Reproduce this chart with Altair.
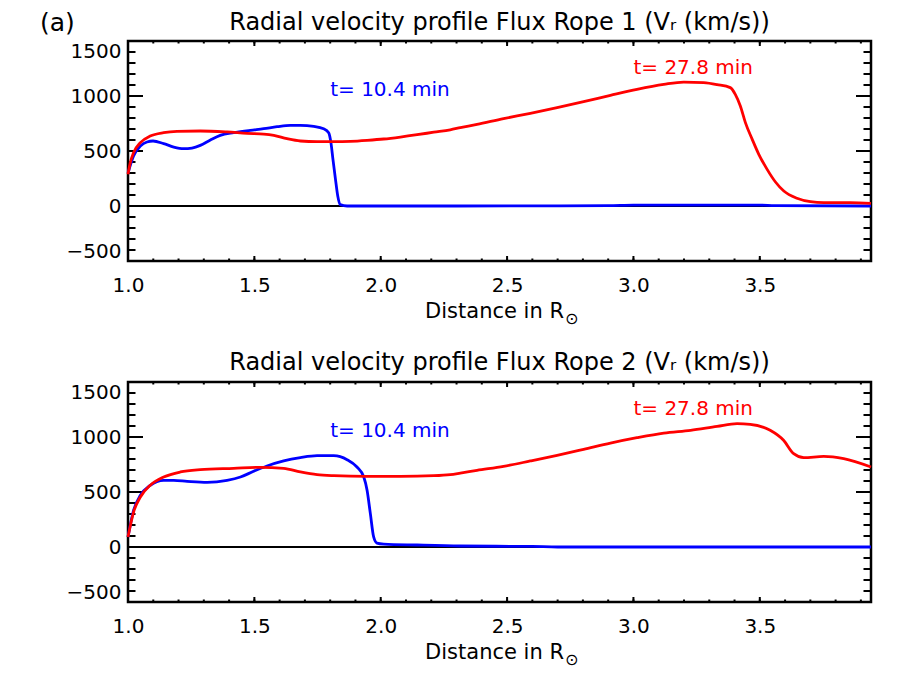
import altair as alt
import pandas as pd

FONT = "DejaVu Sans"

# ---------------- data ----------------
# Panel 1: Flux Rope 1
x_top_blue = [1.0, 1.022, 1.049, 1.075, 1.099, 1.141, 1.181, 1.220, 1.253, 1.286, 1.326,
              1.365, 1.418, 1.484, 1.537, 1.590, 1.642, 1.682, 1.735, 1.774, 1.794, 1.803,
              1.811, 1.821, 1.830, 1.840, 1.867, 2.3, 2.9, 3.0, 3.5, 3.56, 3.94]
v_top_blue = [300, 455, 545, 582, 591, 567, 536, 521, 527, 551, 600,
              642, 667, 688, 703, 721, 733, 733, 724, 703, 667, 576,
              424, 242, 91, 12, 0, 0, 3, 8, 8, 3, 0]

x_top_red = [1.0, 1.009, 1.022, 1.049, 1.088, 1.141, 1.194, 1.286, 1.392, 1.471, 1.537,
             1.577, 1.629, 1.682, 1.748, 1.814, 1.880, 1.946, 2.012, 2.078, 2.144, 2.210,
             2.275, 2.315, 2.381, 2.486, 2.592, 2.698, 2.803, 2.909, 3.014, 3.120, 3.199,
             3.278, 3.331, 3.383, 3.403, 3.423, 3.443, 3.470, 3.496, 3.529, 3.562, 3.595,
             3.647, 3.700, 3.753, 3.858, 3.94]
v_top_red = [288, 394, 485, 576, 636, 667, 679, 682, 673, 661, 654,
             642, 612, 591, 585, 585, 588, 597, 609, 627, 648, 671,
             693, 712, 742, 794, 842, 894, 948, 1006, 1061, 1106, 1127,
             1121, 1103, 1076, 1015, 909, 758, 606, 470, 333, 218, 136,
             70, 39, 30, 30, 24]

# Panel 2: Flux Rope 2
x_bot_blue = [1.0, 1.022, 1.049, 1.088, 1.141, 1.181, 1.234, 1.313, 1.392, 1.445, 1.497,
              1.550, 1.616, 1.682, 1.748, 1.814, 1.867, 1.906, 1.933, 1.946, 1.959, 1.972,
              1.985, 2.012, 2.144, 2.315, 2.6, 2.7, 3.94]
v_bot_blue = [91, 333, 470, 561, 606, 606, 597, 588, 606, 636, 688,
              736, 782, 812, 830, 830, 794, 727, 636, 515, 303, 91,
              36, 27, 18, 9, 5, 0, 0]

x_bot_red = [1.0, 1.022, 1.049, 1.088, 1.141, 1.207, 1.286, 1.418, 1.524, 1.616, 1.682,
             1.748, 1.814, 1.946, 2.078, 2.210, 2.275, 2.315, 2.381, 2.486, 2.592, 2.698,
             2.803, 2.909, 3.014, 3.120, 3.226, 3.331, 3.410, 3.462, 3.541, 3.594, 3.634,
             3.674, 3.753, 3.832, 3.94]
v_bot_red = [91, 318, 455, 561, 636, 682, 703, 715, 724, 715, 682,
             657, 648, 642, 642, 648, 658, 672, 697, 733, 782, 833,
             888, 945, 994, 1036, 1061, 1097, 1121, 1115, 1061, 970, 848,
             812, 824, 803, 727]

labels_blue = ["t= 10.4 min"]
labels_red = ["t= 27.8 min"]
label_blue_pos = ([1.80], [1000])
label_red_pos = ([3.00], [1200])

titles = ["Radial velocity profile Flux Rope 1 (V\u1d63 (km/s))",
          "Radial velocity profile Flux Rope 2 (V\u1d63 (km/s))"]

X_DOMAIN = [1.0, 3.94]
Y_DOMAIN = [-500, 1500]
x_major = [1.0, 1.5, 2.0, 2.5, 3.0, 3.5]
x_minor = [round(1.0 + 0.1 * i, 1) for i in range(1, 30)]
y_major = [-500, 0, 500, 1000, 1500]
y_minor = [-500 + 100 * i for i in range(1, 20)]

# ---------------- layout constants ----------------
W, H = 743, 220
YMAJ, YMIN = 15, 7.5
XMAJ, XMIN = 5, 2.5


def panel(xb, vb, xr, vr, title, first):
    xs = alt.Scale(domain=X_DOMAIN, nice=False, zero=False)
    ys = alt.Scale(domain=Y_DOMAIN, nice=False, zero=False)
    xaxis = alt.Axis(values=x_major, format=".1f", title=None, ticks=False, tickSize=0,
                     domain=False, grid=False, labelFont=FONT, labelFontSize=20,
                     labelColor="black", labelPadding=14, labelFlush=False)
    yaxis = alt.Axis(values=y_major, format="d", title=None, ticks=False, tickSize=0,
                     domain=False, grid=False, labelFont=FONT, labelFontSize=20,
                     labelColor="black", labelPadding=7, labelFlush=True)

    def X(f):
        return alt.X(f, type="quantitative", scale=xs, axis=xaxis)

    def Y(f):
        return alt.Y(f, type="quantitative", scale=ys, axis=yaxis)

    layers = []
    # zero line
    layers.append(alt.Chart(pd.DataFrame({"v": [0]})).mark_rule(color="black", strokeWidth=2.2)
                  .encode(y=Y("v")))
    # ticks (inward, on all four sides)
    dxM = pd.DataFrame({"x": x_major})
    dxm = pd.DataFrame({"x": x_minor})
    dyM = pd.DataFrame({"v": y_major})
    dym = pd.DataFrame({"v": y_minor})
    rule = dict(color="black", strokeWidth=2)
    layers += [
        alt.Chart(dxM).mark_rule(**rule).encode(x=X("x"), y=alt.value(H), y2=alt.value(H - XMAJ)),
        alt.Chart(dxM).mark_rule(**rule).encode(x=X("x"), y=alt.value(0), y2=alt.value(XMAJ)),
        alt.Chart(dxm).mark_rule(**rule).encode(x=X("x"), y=alt.value(H), y2=alt.value(H - XMIN)),
        alt.Chart(dxm).mark_rule(**rule).encode(x=X("x"), y=alt.value(0), y2=alt.value(XMIN)),
        alt.Chart(dyM).mark_rule(**rule).encode(y=Y("v"), x=alt.value(0), x2=alt.value(YMAJ)),
        alt.Chart(dyM).mark_rule(**rule).encode(y=Y("v"), x=alt.value(W), x2=alt.value(W - YMAJ)),
        alt.Chart(dym).mark_rule(**rule).encode(y=Y("v"), x=alt.value(0), x2=alt.value(YMIN)),
        alt.Chart(dym).mark_rule(**rule).encode(y=Y("v"), x=alt.value(W), x2=alt.value(W - YMIN)),
    ]
    # curves
    layers.append(alt.Chart(pd.DataFrame({"x": xb, "v": vb}))
                  .mark_line(color="#0000ff", strokeWidth=2.8, interpolate="monotone")
                  .encode(x=X("x"), y=Y("v")))
    layers.append(alt.Chart(pd.DataFrame({"x": xr, "v": vr}))
                  .mark_line(color="#ff0000", strokeWidth=2.8, interpolate="monotone")
                  .encode(x=X("x"), y=Y("v")))
    # annotations
    layers.append(alt.Chart(pd.DataFrame({"x": label_blue_pos[0], "v": label_blue_pos[1], "t": labels_blue}))
                  .mark_text(align="left", baseline="alphabetic", font=FONT, fontSize=20, color="#0000ff")
                  .encode(x=X("x"), y=Y("v"), text="t:N"))
    layers.append(alt.Chart(pd.DataFrame({"x": label_red_pos[0], "v": label_red_pos[1], "t": labels_red}))
                  .mark_text(align="left", baseline="alphabetic", font=FONT, fontSize=20, color="#ff0000")
                  .encode(x=X("x"), y=Y("v"), text="t:N"))
    # x-axis title with subscript sun symbol
    layers.append(alt.Chart(pd.DataFrame({"t": ["Distance in R"]}))
                  .mark_text(align="right", baseline="alphabetic", font=FONT, fontSize=21, color="black")
                  .encode(x=alt.value(436), y=alt.value(277), text="t:N"))
    layers.append(alt.Chart(pd.DataFrame({"t": ["\u2299"]}))
                  .mark_text(align="left", baseline="alphabetic", font=FONT, fontSize=16, color="black")
                  .encode(x=alt.value(437), y=alt.value(283), text="t:N"))
    if first:
        layers.append(alt.Chart(pd.DataFrame({"t": ["(a)"]}))
                      .mark_text(align="left", baseline="alphabetic", font=FONT, fontSize=25, color="black")
                      .encode(x=alt.value(-88), y=alt.value(-10), text="t:N"))

    return alt.layer(*layers).properties(
        width=W, height=H,
        title=alt.TitleParams(text=title, font=FONT, fontSize=24, fontWeight="normal",
                              color="black", anchor="middle", baseline="alphabetic",
                              offset=-43 if first else -13),
    )


top = panel(x_top_blue, v_top_blue, x_top_red, v_top_red, titles[0], True)
bot = panel(x_bot_blue, v_bot_blue, x_bot_red, v_bot_red, titles[1], False)

chart = alt.vconcat(top, bot, spacing=20).properties(
    padding={"left": 30, "top": 1, "right": 5, "bottom": 5},
    background="white",
).configure_view(stroke="black", strokeWidth=2.5)

chart.save("out.html", embed_options={"renderer": "svg", "actions": False})
